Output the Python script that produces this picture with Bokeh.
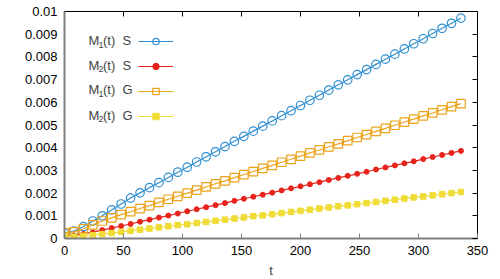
from bokeh.plotting import figure
from bokeh.models import (LinearAxis, FixedTicker, CustomJSTickFormatter, Legend, LegendItem,
                          Label, Range1d, ColumnDataSource)
from bokeh.embed import file_html
from bokeh.resources import INLINE

t = [0, 8, 16, 24, 32, 40, 48, 56, 64, 72, 80, 88, 96, 104, 112, 120, 128, 136, 144, 152, 160,
     168, 176, 184, 192, 200, 208, 216, 224, 232, 240, 248, 256, 264, 272, 280, 288, 296, 304,
     312, 320, 328, 336]

m1_s = [0.00025, 0.00033, 0.00052, 0.00077, 0.00100, 0.00126, 0.00152, 0.00178, 0.00201, 0.00224,
        0.00246, 0.00269, 0.00292, 0.00314, 0.00337, 0.00360, 0.00382, 0.00405, 0.00428, 0.00450,
        0.00473, 0.00495, 0.00518, 0.00541, 0.00563, 0.00586, 0.00609, 0.00631, 0.00654, 0.00677,
        0.00699, 0.00722, 0.00744, 0.00767, 0.00790, 0.00812, 0.00835, 0.00858, 0.00880, 0.00903,
        0.00926, 0.00948, 0.00971]

m2_s = [0.00013, 0.00014, 0.00020, 0.00028, 0.00037, 0.00046, 0.00055, 0.00064, 0.00074, 0.00083,
        0.00092, 0.00101, 0.00110, 0.00120, 0.00129, 0.00138, 0.00147, 0.00156, 0.00166, 0.00175,
        0.00184, 0.00193, 0.00202, 0.00212, 0.00221, 0.00230, 0.00239, 0.00248, 0.00258, 0.00267,
        0.00276, 0.00285, 0.00294, 0.00304, 0.00313, 0.00322, 0.00331, 0.00340, 0.00350, 0.00359,
        0.00368, 0.00377, 0.00386]

m1_g = [0.00025, 0.00029, 0.00042, 0.00060, 0.00077, 0.00091, 0.00105, 0.00118, 0.00132, 0.00145,
        0.00159, 0.00173, 0.00186, 0.00200, 0.00213, 0.00227, 0.00241, 0.00254, 0.00268, 0.00281,
        0.00295, 0.00309, 0.00322, 0.00336, 0.00349, 0.00363, 0.00377, 0.00390, 0.00404, 0.00417,
        0.00431, 0.00445, 0.00458, 0.00472, 0.00485, 0.00499, 0.00513, 0.00526, 0.00540, 0.00553,
        0.00567, 0.00581, 0.00594]

m2_g = [0.00010, 0.00008, 0.00011, 0.00015, 0.00020, 0.00024, 0.00029, 0.00034, 0.00039, 0.00044,
        0.00049, 0.00054, 0.00059, 0.00063, 0.00068, 0.00073, 0.00078, 0.00083, 0.00088, 0.00093,
        0.00098, 0.00102, 0.00107, 0.00112, 0.00117, 0.00122, 0.00127, 0.00132, 0.00137, 0.00142,
        0.00146, 0.00151, 0.00156, 0.00161, 0.00166, 0.00171, 0.00176, 0.00181, 0.00185, 0.00190,
        0.00195, 0.00200, 0.00205]

x_ticks = [0, 50, 100, 150, 200, 250, 300, 350]
y_ticks = [0, 0.001, 0.002, 0.003, 0.004, 0.005, 0.006, 0.007, 0.008, 0.009, 0.01]

series_names = ["1", "2", "1", "2"]
series_kinds = ["S", "S", "G", "G"]
series_values = [m1_s, m2_s, m1_g, m2_g]
colors = ["#2f8fd2", "#e8231b", "#eba31b", "#efdc36"]
markers = ["circle", "circle", "square", "square"]
fills = [False, True, False, True]
sizes = [8.5, 5, 8.5, 5.5]
widths = [1.2, 1.0, 1.2, 1.0]

FONT = "Liberation Sans"
NB = "\u00a0"

p = figure(frame_width=413, frame_height=227, output_backend="svg", toolbar_location=None,
           x_range=Range1d(0, 350), y_range=Range1d(0, 0.01),
           min_border_left=64, min_border_top=11, min_border_right=12, min_border_bottom=40)
p.background_fill_color = "white"
p.border_fill_color = "white"
p.grid.visible = False
p.outline_line_color = "black"
p.outline_line_width = 1

xa = p.xaxis[0]
ya = p.yaxis[0]
xa.ticker = FixedTicker(ticks=x_ticks)
ya.ticker = FixedTicker(ticks=y_ticks)
ya.formatter = CustomJSTickFormatter(code="return Number(tick.toPrecision(6)).toString();")
for ax in (xa, ya):
    ax.axis_line_color = "#7f7f7f"
    ax.axis_line_width = 2
    ax.major_tick_line_color = "#7f7f7f"
    ax.minor_tick_line_color = None
    ax.major_label_text_font = FONT
    ax.major_label_text_font_size = "13px"
    ax.major_label_text_color = "black"
    ax.axis_label_text_font = FONT
    ax.axis_label_text_font_size = "13px"
    ax.axis_label_text_font_style = "normal"
    ax.major_tick_out = 0
xa.major_tick_in = 5
ya.major_tick_in = 0
xa.major_label_standoff = 7
ya.major_label_standoff = 7
xa.axis_label = "t"
xa.axis_label_standoff = 5

top = LinearAxis(ticker=FixedTicker(ticks=x_ticks), axis_line_color=None,
                 major_tick_in=5, major_tick_out=0, minor_tick_line_color=None,
                 major_label_text_color=None, major_label_text_font_size="1px",
                 major_label_standoff=0)
right = LinearAxis(ticker=FixedTicker(ticks=y_ticks), axis_line_color=None,
                   major_tick_in=5, major_tick_out=0, minor_tick_line_color=None,
                   major_label_text_color=None, major_label_text_font_size="1px",
                   major_label_standoff=0)
p.add_layout(top, "above")
p.add_layout(right, "right")

items = []
for vals, col, mk, fl, sz, lw in zip(series_values, colors, markers, fills, sizes, widths):
    src = ColumnDataSource(dict(t=t, v=vals))
    lr = p.line("t", "v", source=src, line_color=col, line_width=1.2)
    sr = p.scatter("t", "v", source=src, marker=mk, size=sz, line_color=col, line_width=lw,
                   fill_color=col if fl else None)
    items.append(LegendItem(label=" ", renderers=[lr, sr]))

legend = Legend(items=items, location=(74, 114), orientation="vertical",
                glyph_width=35, glyph_height=16, label_height=16, label_width=0,
                label_standoff=0, spacing=9, padding=0, margin=0,
                border_line_color=None, background_fill_alpha=0,
                label_text_font_size="1px")
p.add_layout(legend, "center")

row_y = [197, 172.3, 147.7, 122.3]
for ry, nm, kd in zip(row_y, series_names, series_kinds):
    p.add_layout(Label(x=24, y=ry + 1, x_units="screen", y_units="screen", text="M",
                       text_font=FONT, text_font_size="13px", text_baseline="middle",
                       text_align="left"))
    p.add_layout(Label(x=34, y=ry - 3, x_units="screen", y_units="screen", text=nm,
                       text_font=FONT, text_font_size="9px", text_baseline="middle",
                       text_align="left"))
    p.add_layout(Label(x=38.5, y=ry + 1, x_units="screen", y_units="screen",
                       text="(t)" + NB + NB + kd,
                       text_font=FONT, text_font_size="13px", text_baseline="middle",
                       text_align="left"))

open("out.html", "w").write(file_html(p, INLINE))
